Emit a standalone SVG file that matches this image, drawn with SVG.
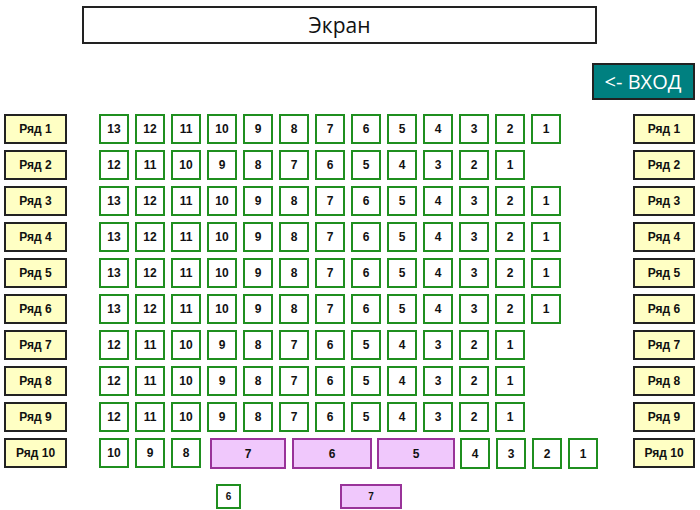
<svg xmlns="http://www.w3.org/2000/svg" width="700" height="510" viewBox="0 0 700 510">
<style>
.bg{fill:#ffffff}
.seat rect{fill:#ffffff;stroke:#1f8f1f;stroke-width:2}
.vip rect{fill:#f0c8fc;stroke:#993399;stroke-width:2}
.lbl rect{fill:#ffffc4;stroke:#222222;stroke-width:2}
text{font-family:"Liberation Sans",Arial,sans-serif;font-weight:bold;font-size:12px;fill:#111111;text-anchor:middle;dominant-baseline:central}
.small text{font-size:10px}
.screen rect{fill:#ffffff;stroke:#222222;stroke-width:2}
.screen text,.entry text{font-family:"Open Sans","Noto Sans",sans-serif;font-weight:normal;font-size:21px}
.entry rect{fill:#008080;stroke:#222222;stroke-width:2}
.entry text{fill:#ffffff;font-size:20px}
</style>
<rect class="bg" x="0" y="0" width="700" height="510"/>
<g id="screen" class="screen"><rect x="83" y="7" width="513" height="36"/><text x="339.5" y="25">Экран</text></g>
<g id="entry" class="entry"><rect x="593" y="64" width="101" height="35"/><text x="643" y="81">&lt;- ВХОД</text></g>

<g id="labels-left">
<g id="L1" class="lbl"><rect x="5" y="115" width="61" height="28"/><text x="35.5" y="129">Ряд 1</text></g>
<g id="L2" class="lbl"><rect x="5" y="151" width="61" height="28"/><text x="35.5" y="165">Ряд 2</text></g>
<g id="L3" class="lbl"><rect x="5" y="187" width="61" height="28"/><text x="35.5" y="201">Ряд 3</text></g>
<g id="L4" class="lbl"><rect x="5" y="223" width="61" height="28"/><text x="35.5" y="237">Ряд 4</text></g>
<g id="L5" class="lbl"><rect x="5" y="259" width="61" height="28"/><text x="35.5" y="273">Ряд 5</text></g>
<g id="L6" class="lbl"><rect x="5" y="295" width="61" height="28"/><text x="35.5" y="309">Ряд 6</text></g>
<g id="L7" class="lbl"><rect x="5" y="331" width="61" height="28"/><text x="35.5" y="345">Ряд 7</text></g>
<g id="L8" class="lbl"><rect x="5" y="367" width="61" height="28"/><text x="35.5" y="381">Ряд 8</text></g>
<g id="L9" class="lbl"><rect x="5" y="403" width="61" height="28"/><text x="35.5" y="417">Ряд 9</text></g>
<g id="L10" class="lbl"><rect x="5" y="439" width="61" height="28"/><text x="35.5" y="453">Ряд 10</text></g>
</g>
<g id="labels-right">
<g id="R1" class="lbl"><rect x="634" y="115" width="60" height="28"/><text x="664" y="129">Ряд 1</text></g>
<g id="R2" class="lbl"><rect x="634" y="151" width="60" height="28"/><text x="664" y="165">Ряд 2</text></g>
<g id="R3" class="lbl"><rect x="634" y="187" width="60" height="28"/><text x="664" y="201">Ряд 3</text></g>
<g id="R4" class="lbl"><rect x="634" y="223" width="60" height="28"/><text x="664" y="237">Ряд 4</text></g>
<g id="R5" class="lbl"><rect x="634" y="259" width="60" height="28"/><text x="664" y="273">Ряд 5</text></g>
<g id="R6" class="lbl"><rect x="634" y="295" width="60" height="28"/><text x="664" y="309">Ряд 6</text></g>
<g id="R7" class="lbl"><rect x="634" y="331" width="60" height="28"/><text x="664" y="345">Ряд 7</text></g>
<g id="R8" class="lbl"><rect x="634" y="367" width="60" height="28"/><text x="664" y="381">Ряд 8</text></g>
<g id="R9" class="lbl"><rect x="634" y="403" width="60" height="28"/><text x="664" y="417">Ряд 9</text></g>
<g id="R10" class="lbl"><rect x="634" y="439" width="60" height="28"/><text x="664" y="453">Ряд 10</text></g>
</g>

<g id="row1">
<g class="seat" transform="translate(100,115)"><rect width="28" height="28"/><text x="14" y="14">13</text></g>
<g class="seat" transform="translate(136,115)"><rect width="28" height="28"/><text x="14" y="14">12</text></g>
<g class="seat" transform="translate(172,115)"><rect width="28" height="28"/><text x="14" y="14">11</text></g>
<g class="seat" transform="translate(208,115)"><rect width="28" height="28"/><text x="14" y="14">10</text></g>
<g class="seat" transform="translate(244,115)"><rect width="28" height="28"/><text x="14" y="14">9</text></g>
<g class="seat" transform="translate(280,115)"><rect width="28" height="28"/><text x="14" y="14">8</text></g>
<g class="seat" transform="translate(316,115)"><rect width="28" height="28"/><text x="14" y="14">7</text></g>
<g class="seat" transform="translate(352,115)"><rect width="28" height="28"/><text x="14" y="14">6</text></g>
<g class="seat" transform="translate(388,115)"><rect width="28" height="28"/><text x="14" y="14">5</text></g>
<g class="seat" transform="translate(424,115)"><rect width="28" height="28"/><text x="14" y="14">4</text></g>
<g class="seat" transform="translate(460,115)"><rect width="28" height="28"/><text x="14" y="14">3</text></g>
<g class="seat" transform="translate(496,115)"><rect width="28" height="28"/><text x="14" y="14">2</text></g>
<g class="seat" transform="translate(532,115)"><rect width="28" height="28"/><text x="14" y="14">1</text></g>
</g>
<g id="row2">
<g class="seat" transform="translate(100,151)"><rect width="28" height="28"/><text x="14" y="14">12</text></g>
<g class="seat" transform="translate(136,151)"><rect width="28" height="28"/><text x="14" y="14">11</text></g>
<g class="seat" transform="translate(172,151)"><rect width="28" height="28"/><text x="14" y="14">10</text></g>
<g class="seat" transform="translate(208,151)"><rect width="28" height="28"/><text x="14" y="14">9</text></g>
<g class="seat" transform="translate(244,151)"><rect width="28" height="28"/><text x="14" y="14">8</text></g>
<g class="seat" transform="translate(280,151)"><rect width="28" height="28"/><text x="14" y="14">7</text></g>
<g class="seat" transform="translate(316,151)"><rect width="28" height="28"/><text x="14" y="14">6</text></g>
<g class="seat" transform="translate(352,151)"><rect width="28" height="28"/><text x="14" y="14">5</text></g>
<g class="seat" transform="translate(388,151)"><rect width="28" height="28"/><text x="14" y="14">4</text></g>
<g class="seat" transform="translate(424,151)"><rect width="28" height="28"/><text x="14" y="14">3</text></g>
<g class="seat" transform="translate(460,151)"><rect width="28" height="28"/><text x="14" y="14">2</text></g>
<g class="seat" transform="translate(496,151)"><rect width="28" height="28"/><text x="14" y="14">1</text></g>
</g>
<g id="row3">
<g class="seat" transform="translate(100,187)"><rect width="28" height="28"/><text x="14" y="14">13</text></g>
<g class="seat" transform="translate(136,187)"><rect width="28" height="28"/><text x="14" y="14">12</text></g>
<g class="seat" transform="translate(172,187)"><rect width="28" height="28"/><text x="14" y="14">11</text></g>
<g class="seat" transform="translate(208,187)"><rect width="28" height="28"/><text x="14" y="14">10</text></g>
<g class="seat" transform="translate(244,187)"><rect width="28" height="28"/><text x="14" y="14">9</text></g>
<g class="seat" transform="translate(280,187)"><rect width="28" height="28"/><text x="14" y="14">8</text></g>
<g class="seat" transform="translate(316,187)"><rect width="28" height="28"/><text x="14" y="14">7</text></g>
<g class="seat" transform="translate(352,187)"><rect width="28" height="28"/><text x="14" y="14">6</text></g>
<g class="seat" transform="translate(388,187)"><rect width="28" height="28"/><text x="14" y="14">5</text></g>
<g class="seat" transform="translate(424,187)"><rect width="28" height="28"/><text x="14" y="14">4</text></g>
<g class="seat" transform="translate(460,187)"><rect width="28" height="28"/><text x="14" y="14">3</text></g>
<g class="seat" transform="translate(496,187)"><rect width="28" height="28"/><text x="14" y="14">2</text></g>
<g class="seat" transform="translate(532,187)"><rect width="28" height="28"/><text x="14" y="14">1</text></g>
</g>
<g id="row4">
<g class="seat" transform="translate(100,223)"><rect width="28" height="28"/><text x="14" y="14">13</text></g>
<g class="seat" transform="translate(136,223)"><rect width="28" height="28"/><text x="14" y="14">12</text></g>
<g class="seat" transform="translate(172,223)"><rect width="28" height="28"/><text x="14" y="14">11</text></g>
<g class="seat" transform="translate(208,223)"><rect width="28" height="28"/><text x="14" y="14">10</text></g>
<g class="seat" transform="translate(244,223)"><rect width="28" height="28"/><text x="14" y="14">9</text></g>
<g class="seat" transform="translate(280,223)"><rect width="28" height="28"/><text x="14" y="14">8</text></g>
<g class="seat" transform="translate(316,223)"><rect width="28" height="28"/><text x="14" y="14">7</text></g>
<g class="seat" transform="translate(352,223)"><rect width="28" height="28"/><text x="14" y="14">6</text></g>
<g class="seat" transform="translate(388,223)"><rect width="28" height="28"/><text x="14" y="14">5</text></g>
<g class="seat" transform="translate(424,223)"><rect width="28" height="28"/><text x="14" y="14">4</text></g>
<g class="seat" transform="translate(460,223)"><rect width="28" height="28"/><text x="14" y="14">3</text></g>
<g class="seat" transform="translate(496,223)"><rect width="28" height="28"/><text x="14" y="14">2</text></g>
<g class="seat" transform="translate(532,223)"><rect width="28" height="28"/><text x="14" y="14">1</text></g>
</g>
<g id="row5">
<g class="seat" transform="translate(100,259)"><rect width="28" height="28"/><text x="14" y="14">13</text></g>
<g class="seat" transform="translate(136,259)"><rect width="28" height="28"/><text x="14" y="14">12</text></g>
<g class="seat" transform="translate(172,259)"><rect width="28" height="28"/><text x="14" y="14">11</text></g>
<g class="seat" transform="translate(208,259)"><rect width="28" height="28"/><text x="14" y="14">10</text></g>
<g class="seat" transform="translate(244,259)"><rect width="28" height="28"/><text x="14" y="14">9</text></g>
<g class="seat" transform="translate(280,259)"><rect width="28" height="28"/><text x="14" y="14">8</text></g>
<g class="seat" transform="translate(316,259)"><rect width="28" height="28"/><text x="14" y="14">7</text></g>
<g class="seat" transform="translate(352,259)"><rect width="28" height="28"/><text x="14" y="14">6</text></g>
<g class="seat" transform="translate(388,259)"><rect width="28" height="28"/><text x="14" y="14">5</text></g>
<g class="seat" transform="translate(424,259)"><rect width="28" height="28"/><text x="14" y="14">4</text></g>
<g class="seat" transform="translate(460,259)"><rect width="28" height="28"/><text x="14" y="14">3</text></g>
<g class="seat" transform="translate(496,259)"><rect width="28" height="28"/><text x="14" y="14">2</text></g>
<g class="seat" transform="translate(532,259)"><rect width="28" height="28"/><text x="14" y="14">1</text></g>
</g>
<g id="row6">
<g class="seat" transform="translate(100,295)"><rect width="28" height="28"/><text x="14" y="14">13</text></g>
<g class="seat" transform="translate(136,295)"><rect width="28" height="28"/><text x="14" y="14">12</text></g>
<g class="seat" transform="translate(172,295)"><rect width="28" height="28"/><text x="14" y="14">11</text></g>
<g class="seat" transform="translate(208,295)"><rect width="28" height="28"/><text x="14" y="14">10</text></g>
<g class="seat" transform="translate(244,295)"><rect width="28" height="28"/><text x="14" y="14">9</text></g>
<g class="seat" transform="translate(280,295)"><rect width="28" height="28"/><text x="14" y="14">8</text></g>
<g class="seat" transform="translate(316,295)"><rect width="28" height="28"/><text x="14" y="14">7</text></g>
<g class="seat" transform="translate(352,295)"><rect width="28" height="28"/><text x="14" y="14">6</text></g>
<g class="seat" transform="translate(388,295)"><rect width="28" height="28"/><text x="14" y="14">5</text></g>
<g class="seat" transform="translate(424,295)"><rect width="28" height="28"/><text x="14" y="14">4</text></g>
<g class="seat" transform="translate(460,295)"><rect width="28" height="28"/><text x="14" y="14">3</text></g>
<g class="seat" transform="translate(496,295)"><rect width="28" height="28"/><text x="14" y="14">2</text></g>
<g class="seat" transform="translate(532,295)"><rect width="28" height="28"/><text x="14" y="14">1</text></g>
</g>
<g id="row7">
<g class="seat" transform="translate(100,331)"><rect width="28" height="28"/><text x="14" y="14">12</text></g>
<g class="seat" transform="translate(136,331)"><rect width="28" height="28"/><text x="14" y="14">11</text></g>
<g class="seat" transform="translate(172,331)"><rect width="28" height="28"/><text x="14" y="14">10</text></g>
<g class="seat" transform="translate(208,331)"><rect width="28" height="28"/><text x="14" y="14">9</text></g>
<g class="seat" transform="translate(244,331)"><rect width="28" height="28"/><text x="14" y="14">8</text></g>
<g class="seat" transform="translate(280,331)"><rect width="28" height="28"/><text x="14" y="14">7</text></g>
<g class="seat" transform="translate(316,331)"><rect width="28" height="28"/><text x="14" y="14">6</text></g>
<g class="seat" transform="translate(352,331)"><rect width="28" height="28"/><text x="14" y="14">5</text></g>
<g class="seat" transform="translate(388,331)"><rect width="28" height="28"/><text x="14" y="14">4</text></g>
<g class="seat" transform="translate(424,331)"><rect width="28" height="28"/><text x="14" y="14">3</text></g>
<g class="seat" transform="translate(460,331)"><rect width="28" height="28"/><text x="14" y="14">2</text></g>
<g class="seat" transform="translate(496,331)"><rect width="28" height="28"/><text x="14" y="14">1</text></g>
</g>
<g id="row8">
<g class="seat" transform="translate(100,367)"><rect width="28" height="28"/><text x="14" y="14">12</text></g>
<g class="seat" transform="translate(136,367)"><rect width="28" height="28"/><text x="14" y="14">11</text></g>
<g class="seat" transform="translate(172,367)"><rect width="28" height="28"/><text x="14" y="14">10</text></g>
<g class="seat" transform="translate(208,367)"><rect width="28" height="28"/><text x="14" y="14">9</text></g>
<g class="seat" transform="translate(244,367)"><rect width="28" height="28"/><text x="14" y="14">8</text></g>
<g class="seat" transform="translate(280,367)"><rect width="28" height="28"/><text x="14" y="14">7</text></g>
<g class="seat" transform="translate(316,367)"><rect width="28" height="28"/><text x="14" y="14">6</text></g>
<g class="seat" transform="translate(352,367)"><rect width="28" height="28"/><text x="14" y="14">5</text></g>
<g class="seat" transform="translate(388,367)"><rect width="28" height="28"/><text x="14" y="14">4</text></g>
<g class="seat" transform="translate(424,367)"><rect width="28" height="28"/><text x="14" y="14">3</text></g>
<g class="seat" transform="translate(460,367)"><rect width="28" height="28"/><text x="14" y="14">2</text></g>
<g class="seat" transform="translate(496,367)"><rect width="28" height="28"/><text x="14" y="14">1</text></g>
</g>
<g id="row9">
<g class="seat" transform="translate(100,403)"><rect width="28" height="28"/><text x="14" y="14">12</text></g>
<g class="seat" transform="translate(136,403)"><rect width="28" height="28"/><text x="14" y="14">11</text></g>
<g class="seat" transform="translate(172,403)"><rect width="28" height="28"/><text x="14" y="14">10</text></g>
<g class="seat" transform="translate(208,403)"><rect width="28" height="28"/><text x="14" y="14">9</text></g>
<g class="seat" transform="translate(244,403)"><rect width="28" height="28"/><text x="14" y="14">8</text></g>
<g class="seat" transform="translate(280,403)"><rect width="28" height="28"/><text x="14" y="14">7</text></g>
<g class="seat" transform="translate(316,403)"><rect width="28" height="28"/><text x="14" y="14">6</text></g>
<g class="seat" transform="translate(352,403)"><rect width="28" height="28"/><text x="14" y="14">5</text></g>
<g class="seat" transform="translate(388,403)"><rect width="28" height="28"/><text x="14" y="14">4</text></g>
<g class="seat" transform="translate(424,403)"><rect width="28" height="28"/><text x="14" y="14">3</text></g>
<g class="seat" transform="translate(460,403)"><rect width="28" height="28"/><text x="14" y="14">2</text></g>
<g class="seat" transform="translate(496,403)"><rect width="28" height="28"/><text x="14" y="14">1</text></g>
</g>
<g id="row10">
<g class="seat" transform="translate(100,439)"><rect width="28" height="28"/><text x="14" y="14">10</text></g>
<g class="seat" transform="translate(136,439)"><rect width="28" height="28"/><text x="14" y="14">9</text></g>
<g class="seat" transform="translate(172,439)"><rect width="28" height="28"/><text x="14" y="14">8</text></g>
<g class="vip" transform="translate(211,439)"><rect width="74" height="29"/><text x="37" y="14.5">7</text></g>
<g class="vip" transform="translate(293,439)"><rect width="78" height="29"/><text x="39" y="14.5">6</text></g>
<g class="vip" transform="translate(378,439)"><rect width="76" height="29"/><text x="38" y="14.5">5</text></g>
<g class="seat" transform="translate(461,439)"><rect width="28" height="29"/><text x="14" y="14.5">4</text></g>
<g class="seat" transform="translate(497,439)"><rect width="28" height="29"/><text x="14" y="14.5">3</text></g>
<g class="seat" transform="translate(533,439)"><rect width="28" height="29"/><text x="14" y="14.5">2</text></g>
<g class="seat" transform="translate(569,439)"><rect width="28" height="29"/><text x="14" y="14.5">1</text></g>
</g>
<g id="legend">
<g id="legend-seat" class="seat small" transform="translate(217,485)"><rect width="23" height="23"/><text x="11.5" y="11.5">6</text></g>
<g id="legend-vip" class="vip small" transform="translate(341,485)"><rect width="60" height="23"/><text x="30" y="11.5">7</text></g>
</g>
<g id="connectors"/>
</svg>
